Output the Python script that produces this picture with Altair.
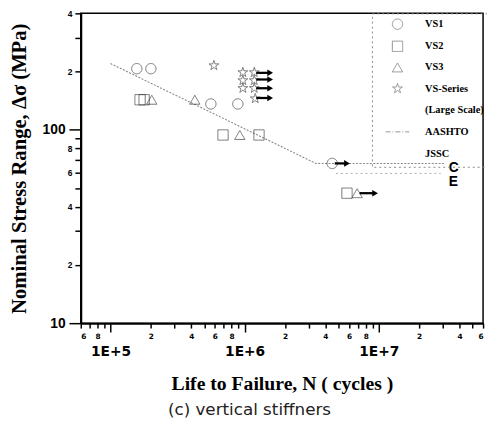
import altair as alt
import pandas as pd

# ---------------- data ----------------
series_names = ["VS1", "VS2", "VS3", "VS-Series", "(Large Scale)", "AASHTO", "JSSC"]

vs1_n = [1.57e5, 2.0e5, 5.6e5, 8.9e5, 4.5e6]
vs1_s = [207, 207, 136, 136, 67]
vs2_n = [1.66e5, 1.78e5, 6.9e5, 1.28e6, 5.8e6]
vs2_s = [143, 143, 94, 94, 47]
vs3_n = [2.03e5, 4.25e5, 9.2e5, 6.9e6]
vs3_s = [143, 143, 94, 47]
vss_n = [5.9e5, 9.7e5, 1.18e6, 9.7e5, 1.18e6, 9.7e5, 1.18e6, 1.2e6]
vss_s = [215, 198, 198, 180, 180, 164, 164, 145]

runout_start = [4.7e6, 7.2e6, 1.22e6, 1.22e6, 1.22e6, 1.22e6]
runout_end = [5.8e6, 9.4e6, 1.55e6, 1.55e6, 1.55e6, 1.55e6]
runout_s = [67, 47, 197, 182, 164, 146]

aashto_n = [1e5, 3.4e6, 3.1e7]
aashto_s = [220, 67, 67]
jssc_n = [4.8e6, 2.9e7]
jssc_s = [59.5, 59.5]

cat_text = ["C", "E"]
cat_n = [3.5e7, 3.5e7]
cat_s = [63.5, 53.5]

x_ticks = [6e4, 7e4, 8e4, 9e4, 1e5, 2e5, 3e5, 4e5, 5e5, 6e5, 7e5, 8e5, 9e5,
           1e6, 2e6, 3e6, 4e6, 5e6, 6e6, 7e6, 8e6, 9e6,
           1e7, 2e7, 3e7, 4e7, 5e7, 6e7]
y_ticks = [10, 20, 30, 40, 50, 60, 70, 80, 90, 100, 200, 300, 400]

# ---------------- tables ----------------
rows = []
for name, ns, ss in [("VS1", vs1_n, vs1_s), ("VS2", vs2_n, vs2_s),
                     ("VS3", vs3_n, vs3_s), ("VS-Series", vss_n, vss_s)]:
    for n, s in zip(ns, ss):
        rows.append({"N": n, "S": s, "series": name})
pts = pd.DataFrame(rows)

arrows = pd.DataFrame({"N": runout_start, "N2": runout_end, "S": runout_s})
heads = pd.DataFrame({"N": runout_end, "S": runout_s})
aashto = pd.DataFrame({"N": aashto_n, "S": aashto_s})
jssc = pd.DataFrame({"N": jssc_n, "S": jssc_s})
cats = pd.DataFrame({"N": cat_n, "S": cat_s, "t": cat_text})

# ---------------- scales / axes ----------------
SANS = "Liberation Sans"
WIDE = "DejaVu Sans"
SERIF = "Liberation Serif"

xscale = alt.Scale(type="log", domain=[6e4, 6e7], nice=False)
yscale = alt.Scale(type="log", domain=[10, 400], nice=False)

x_major = "datum.value==1e5||datum.value==1e6||datum.value==1e7"
y_major = "datum.value==10||datum.value==100"

xaxis = alt.Axis(
    values=x_ticks,
    labelExpr=("datum.value==1e5?'1E+5':datum.value==1e6?'1E+6':datum.value==1e7?'1E+7':"
               "(indexof([6e4,8e4,2e5,4e5,6e5,8e5,2e6,4e6,6e6,8e6,2e7,4e7,6e7],datum.value)>=0?"
               "format(datum.value/pow(10,floor(log(datum.value)/LN10+1e-9)),'d'):'')"),
    labelFontSize={"condition": {"test": x_major, "value": 14}, "value": 7.5},
    labelPadding={"condition": {"test": x_major, "value": 13}, "value": 5},
    tickSize={"condition": {"test": x_major, "value": 9}, "value": 5},
    labelOverlap=False,
    labelFont=WIDE, labelFontWeight="bold", labelColor="black",
    grid=False, domainColor="black", domainWidth=2, tickColor="black", tickWidth=1.5,
    title="Life to Failure,  N ( cycles )",
    titleFont=SERIF, titleFontSize=20, titleFontWeight="bold", titleColor="black",
    titlePadding=15,
)
yaxis = alt.Axis(
    values=y_ticks,
    labelExpr=("datum.value==10||datum.value==100?format(datum.value,'d'):"
               "(indexof([20,40,60,80],datum.value)>=0?format(datum.value/10,'d'):"
               "(indexof([200,400],datum.value)>=0?format(datum.value/100,'d'):''))"),
    labelFontSize={"condition": {"test": y_major, "value": 14}, "value": 8.5},
    labelPadding={"condition": {"test": y_major, "value": 4}, "value": 3},
    tickSize={"condition": {"test": y_major, "value": 12}, "value": 6},
    labelOverlap=False,
    labelFont=SANS, labelFontWeight="bold", labelColor="black",
    grid=False, domainColor="black", domainWidth=2, tickColor="black", tickWidth=1.5,
    title="Nominal Stress Range, \u0394\u03c3 (MPa)",
    titleFont=SERIF, titleFontSize=21, titleFontWeight="bold", titleColor="black",
    titlePadding=13,
)

X = lambda f="N:Q": alt.X(f, scale=xscale, axis=xaxis)
Y = lambda f="S:Q": alt.Y(f, scale=yscale, axis=yaxis)

STAR = ("M0,-1L0.225,-0.309L0.951,-0.309L0.363,0.118L0.588,0.809L0,0.382"
        "L-0.588,0.809L-0.363,0.118L-0.951,-0.309L-0.225,-0.309Z")
BLANK = "M-1,-1L-1,-1M1,1L1,1"
LINE = "M-2.3,0L2.3,0M0,-1L0,-1M0,1L0,1"
shape_range = ["circle", "square", "triangle-up", STAR, BLANK, LINE, BLANK]
dash_range = [[1, 0], [1, 0], [1, 0], [1, 0], [1, 0], [5, 2, 1, 2], [1, 0]]

legend = alt.Legend(
    title=None, orient="none", legendX=296, legendY=0,
    labelFont=SERIF, labelFontWeight="bold", labelFontSize=10.5, labelColor="black",
    symbolSize=110, symbolStrokeColor="#555", symbolFillColor="transparent",
    symbolStrokeWidth=0.9, symbolOffset=15, labelOffset=22, rowPadding=6.5,
    padding=5, strokeColor="#888",
)

points = alt.Chart(pts).mark_point(filled=False, size=110, strokeWidth=0.9, color="#222").encode(
    x=X(), y=Y(),
    shape=alt.Shape("series:N", scale=alt.Scale(domain=series_names, range=shape_range), legend=legend),
    strokeDash=alt.StrokeDash("series:N", scale=alt.Scale(domain=series_names, range=dash_range), legend=legend),
)

aashto_line = alt.Chart(aashto).mark_line(color="#888", strokeWidth=1.1, strokeDash=[2, 1.5]).encode(
    x=X(), y=Y(), order="N:Q")
jssc_line = alt.Chart(jssc).mark_line(color="#aaa", strokeWidth=1, strokeDash=[2, 3]).encode(
    x=X(), y=Y())

arrow_shafts = alt.Chart(arrows).mark_rule(color="black", strokeWidth=2.3).encode(
    x=X(), x2="N2:Q", y=Y())
arrow_heads = alt.Chart(heads).mark_point(shape="triangle-right", filled=True, color="black",
                                          size=45, opacity=1).encode(x=X(), y=Y())

cat_labels = alt.Chart(cats).mark_text(font=SANS, fontWeight="bold", fontSize=14,
                                       color="black", align="left", dx=-3).encode(
    x=X(), y=Y(), text="t:N")

chart = alt.layer(aashto_line, jssc_line, points, arrow_shafts, arrow_heads, cat_labels).properties(
    width=409, height=315,
    autosize=alt.AutoSizeParams(type="none"),
    padding={"left": 74, "top": 2, "right": 4, "bottom": 95},
    title=alt.TitleParams("(c) vertical stiffners", orient="bottom", font=WIDE,
                          fontSize=17, fontWeight="normal", color="#222", offset=9, dx=-33),
).configure_view(stroke="black", strokeWidth=1.5).configure_legend(strokeDash=[2, 3])

chart.save("out.html", embed_options={"renderer": "svg", "actions": False})
